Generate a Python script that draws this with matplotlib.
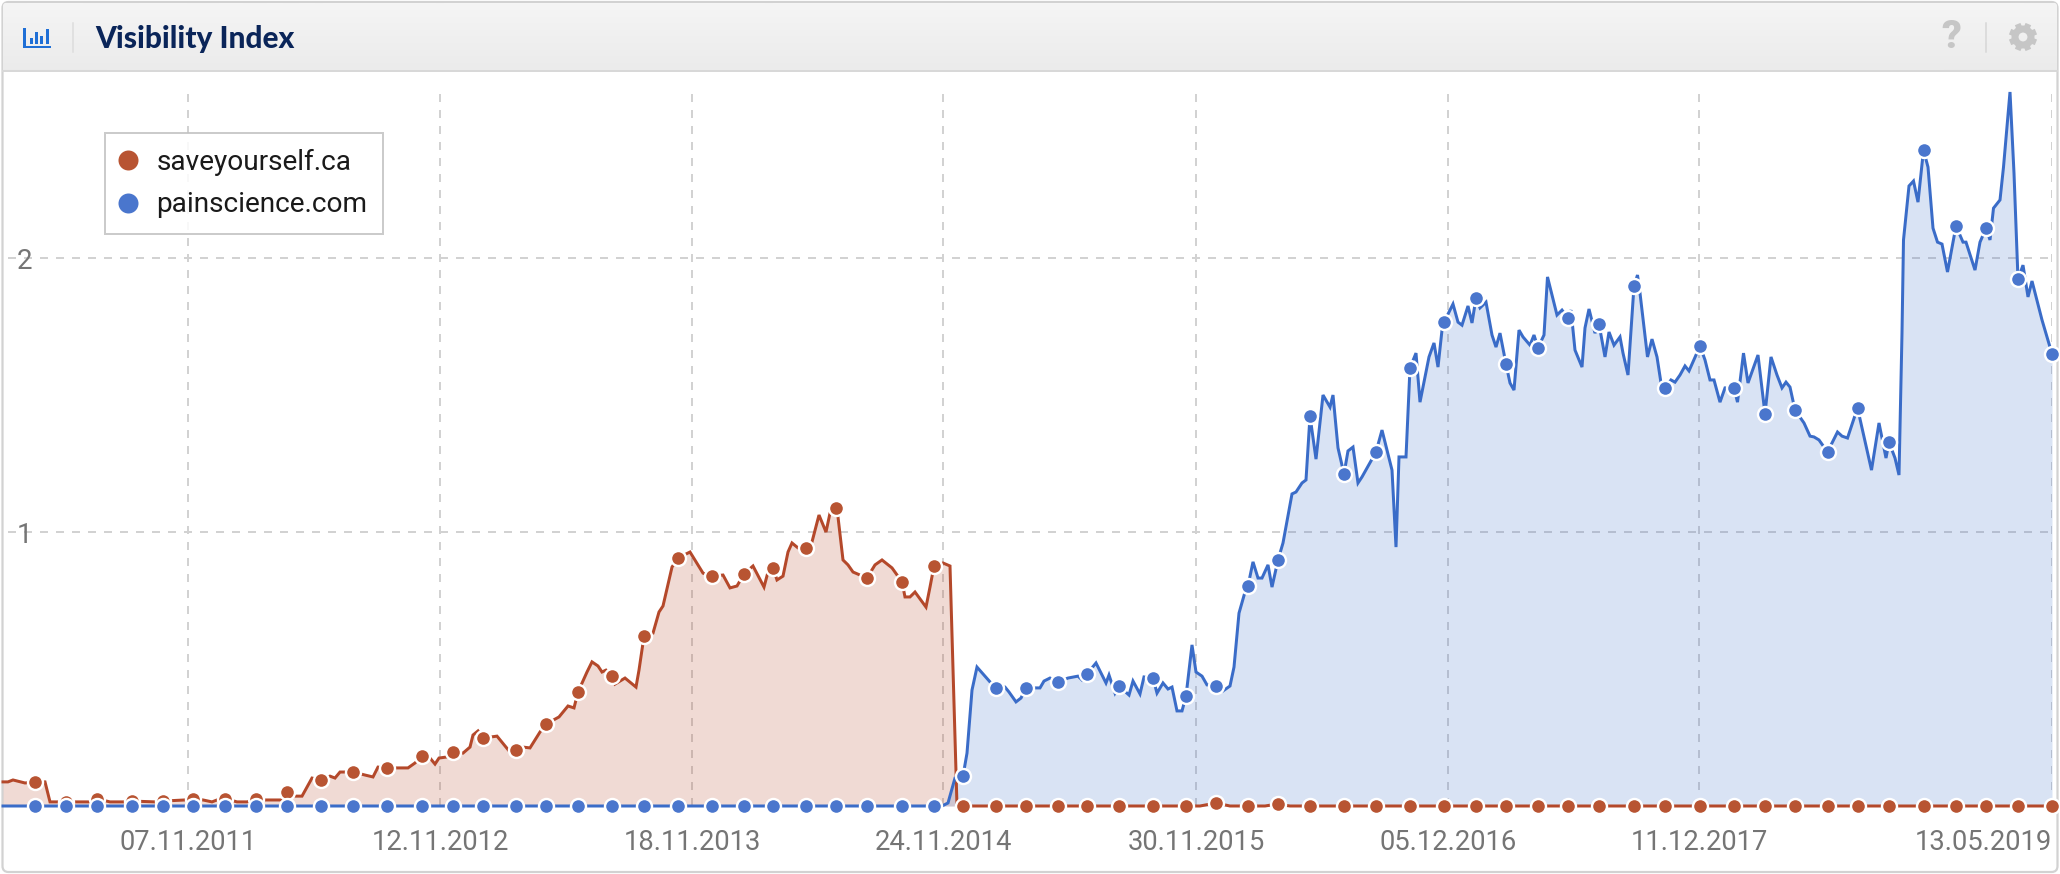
import numpy as np
import matplotlib
matplotlib.use('Agg')
import matplotlib.pyplot as plt
from matplotlib.colors import LinearSegmentedColormap
from matplotlib.lines import Line2D
from matplotlib.patches import FancyBboxPatch, Rectangle, Circle

# (position, value) pairs, position is in steps of 5 image pixels
red_points = [
    (.6, .088), (1.6, .088), (2.6, .095), (5, .084), (7, .088), (9, .088), (10, .015), (18, .015), (19.4, .026),
    (22, .015), (24.6, .015), (26.4, .018), (31, .015), (32.6, .018), (37, .022), (38.6, .026), (40.6, .022),
    (42.4, .015), (43.4, .022), (45.2, .026), (47.4, .015), (49.4, .015), (51.2, .026), (52.6, .022), (56.6, .022),
    (57.4, .051), (59, .036), (60.4, .036), (62.4, .102), (64.2, .095), (66, .109), (67, .102), (68, .124),
    (70.6, .124), (73, .113), (74.6, .106), (75.6, .142), (77.4, .139), (81.6, .139), (83, .157), (84.4, .182),
    (86, .175), (87, .153), (87.8, .175), (89.4, .179), (90.6, .197), (92.6, .193), (94, .215), (94.6, .259),
    (95.6, .274), (96.6, .248), (99.4, .255), (102, .197), (103.2, .204), (104.6, .215), (106, .212), (108, .270),
    (109.2, .299), (111.8, .325), (113.6, .365), (114.8, .358), (115.6, .416), (117.4, .489), (118.4, .526),
    (119.6, .511), (120.4, .489), (121.2, .496), (122.4, .474), (123, .445), (125, .467), (127.2, .434),
    (127.8, .496), (128.8, .620), (130.6, .631), (131.8, .708), (132.6, .730), (134.4, .872), (135.6, .905),
    (138, .927), (140.6, .850), (142.4, .839), (144.6, .843), (146, .796), (147.4, .803), (148.8, .847),
    (150.6, .876), (152.8, .799), (153.6, .854), (154.6, .869), (155.4, .825), (156.6, .839), (157.6, .927),
    (158.4, .960), (159.6, .942), (161.2, .942), (162.4, .964), (163.8, 1.062), (165.2, 1.0), (166, 1.069),
    (167.2, 1.088), (167.6, 1.055), (168.6, .898), (169.6, .880), (170.6, .854), (173.4, .832), (175, .880),
    (176.4, .898), (178.4, .869), (180.4, .818), (181, .763), (182, .763), (183, .781), (185.2, .726), (186, .799),
    (186.8, .876), (188.6, .887), (190, .876), (191.4, 0), (240, 0), (243.2, .011), (246, 0), (253, 0),
    (255.4, .007), (258, 0), (410.4, 0),
]
blue_points = [
    (.6, 0), (188.4, 0), (189.6, .011), (191, .102), (192.6, .109), (193.4, .193), (194.4, .423), (195.4, .507),
    (198, .453), (199.2, .431), (201, .434), (201.8, .416), (203.2, .380), (204.2, .394), (205.2, .431), (208, .431),
    (208.8, .456), (210, .467), (211.6, .453), (213.6, .467), (215.6, .474), (216.4, .460), (217.4, .482),
    (219.2, .522), (221.2, .449), (221.8, .478), (223, .412), (223.8, .438), (225.8, .405), (226.6, .456),
    (228, .409), (228.8, .471), (230.6, .467), (231.4, .412), (232.6, .449), (233.6, .427), (234.4, .434),
    (235.4, .347), (236.4, .347), (237.2, .401), (238.4, .588), (239.2, .489), (240.4, .474), (241.4, .442),
    (243.2, .438), (244.6, .420), (246, .438), (246.8, .507), (247.8, .704), (249, .781), (249.6, .803),
    (250.6, .891), (251.6, .832), (252.4, .832), (253.6, .880), (254.4, .799), (255.6, .898), (256.6, .960),
    (258.4, 1.139), (259.2, 1.146), (260.4, 1.179), (261.2, 1.190), (262, 1.423), (263.2, 1.266), (264.6, 1.5),
    (266, 1.456), (266.6, 1.5), (267.6, 1.307), (268.8, 1.212), (269.6, 1.296), (270.6, 1.310), (271.6, 1.179),
    (272.4, 1.201), (275.2, 1.292), (276.4, 1.372), (278.4, 1.226), (279.2, .945), (279.8, 1.274), (281.2, 1.274),
    (282, 1.599), (283.2, 1.653), (284, 1.474), (285.8, 1.639), (286.8, 1.690), (287.6, 1.602), (288.4, 1.737),
    (288.8, 1.766), (290.6, 1.832), (291.6, 1.766), (292.4, 1.755), (293.6, 1.825), (294.4, 1.763), (295.2, 1.854),
    (296, 1.818), (297.2, 1.839), (298.4, 1.719), (299.2, 1.675), (300, 1.726), (301.2, 1.613), (302, 1.544),
    (302.8, 1.518), (303.8, 1.737), (304.6, 1.712), (306, 1.682), (306.8, 1.719), (307.6, 1.672), (308.8, 1.719),
    (309.5, 1.931), (311.4, 1.792), (312.4, 1.810), (313.6, 1.781), (314.2, 1.810), (315, 1.664), (316.4, 1.602),
    (317, 1.745), (317.8, 1.814), (319, 1.726), (319.8, 1.759), (321, 1.639), (321.8, 1.730), (322.8, 1.682),
    (324, 1.712), (324.6, 1.653), (325.6, 1.573), (326.8, 1.898), (327.5, 1.938), (328, 1.872), (329.5, 1.639),
    (330.4, 1.704), (331.4, 1.639), (332.2, 1.544), (333, 1.526), (334.2, 1.555), (335, 1.547), (336, 1.573),
    (337, 1.606), (337.8, 1.588), (340, 1.679), (341, 1.628), (342, 1.555), (342.8, 1.555), (344, 1.474),
    (345, 1.526), (346.8, 1.526), (347.5, 1.474), (348.7, 1.653), (349.6, 1.544), (351.6, 1.646), (353, 1.431),
    (354.2, 1.639), (355.4, 1.573), (356.4, 1.526), (357.2, 1.547), (358, 1.529), (359, 1.445), (360.8, 1.398),
    (362, 1.350), (362.8, 1.347), (363.8, 1.336), (365.5, 1.292), (367.5, 1.365), (368.4, 1.350), (369.5, 1.343),
    (371.5, 1.453), (372.5, 1.372), (374.3, 1.226), (375.8, 1.398), (377.2, 1.270), (377.8, 1.328), (379, 1.270),
    (379.8, 1.208), (380.4, 1.726), (380.7, 2.066), (381.8, 2.263), (382.7, 2.281), (383.6, 2.204), (384.7, 2.394),
    (385.6, 2.332), (386.6, 2.109), (387.5, 2.058), (388.4, 2.051), (389.5, 1.949), (391.2, 2.117), (392.6, 2.058),
    (393.2, 2.058), (395, 1.956), (396, 2.058), (397.2, 2.109), (398, 2.066), (398.7, 2.182), (400, 2.212),
    (400.7, 2.332), (402, 2.606), (402.8, 2.310), (403.6, 1.923), (404.6, 1.974), (405.6, 1.858), (406.4, 1.916),
    (408.4, 1.774), (410.4, 1.650),
]
red_x, red_values = zip(*red_points)
blue_x, blue_values = zip(*blue_points)

# both series carry a dot on the same positions
dot_x = [7, 13.2, 19.4, 26.4, 32.6, 38.6, 45, 51.2, 57.4, 64.2, 70.6, 77.4, 84.4, 90.6, 96.6, 103.2, 109.2, 115.6,
         122.4, 128.8, 135.6, 142.4, 148.8, 154.6, 161.2, 167.2, 173.4, 180.4, 186.8, 192.6, 199.2, 205.2, 211.6,
         217.4, 223.8, 230.6, 237.2, 243.2, 249.6, 255.6, 262, 268.8, 275.2, 282, 288.8, 295.2, 301.2, 307.6, 313.6,
         319.8, 326.8, 333, 340, 346.8, 353, 359, 365.5, 371.5, 377.8, 384.7, 391.2, 397.2, 403.6, 410.4]

tick_x = [37.6, 88, 138.4, 188.6, 239.2, 289.6, 339.8, 410.4]
tick_labels = ['07.11.2011', '12.11.2012', '18.11.2013', '24.11.2014', '30.11.2015', '05.12.2016', '11.12.2017',
               '13.05.2019']
y_ticks = [1, 2]

RED_LINE = '#b4482a'
RED_DOT = '#b85432'
BLUE_LINE = '#3a6cc8'
BLUE_DOT = '#4a76cd'
GRID = '#d2d2d2'
px = 0.72  # one image pixel in points

plt.rcParams['font.family'] = ['Roboto', 'DejaVu Sans']
fig = plt.figure(figsize=(20.6, 8.74), dpi=100, facecolor='white')

# card frame and header, drawn in image pixels
chrome = fig.add_axes([0, 0, 1, 1], zorder=0)
card = FancyBboxPatch((2.5, 2), 2055, 870, boxstyle='round,pad=0,rounding_size=6', fc='white', ec='#d2d2d2', lw=2.2 * px)
chrome.add_patch(card)
gradient = np.linspace(0, 1, 64).reshape(-1, 1)
header_cmap = LinearSegmentedColormap.from_list('header', ['#f5f5f5', '#ebebeb'])
header = chrome.imshow(gradient, extent=(3, 2057, 70, 3), aspect='auto', cmap=header_cmap, zorder=1)
header.set_clip_path(card)
chrome.set_xlim(0, 2060)
chrome.set_ylim(874, 0)
chrome.axis('off')
chrome.plot([3, 2057], [70.5, 70.5], color='#d8d8d8', lw=2 * px, zorder=2)
chrome.plot([73, 73], [23, 52], color='#dcdcdc', lw=1.5 * px, zorder=2)
chrome.plot([1986, 1986], [23, 52], color='#d6d6d6', lw=1.5 * px, zorder=2)

# chart icon
icon_blue = '#1f6fd6'
chrome.add_patch(Rectangle((23, 28), 2.6, 20, fc=icon_blue, ec='none', zorder=3))
chrome.add_patch(Rectangle((23, 45.5), 28, 2.8, fc=icon_blue, ec='none', zorder=3))
for left, top in [(30, 38), (35, 32), (40, 36), (46, 29)]:
    chrome.add_patch(Rectangle((left, top), 3.2, 44 - top, fc=icon_blue, ec='none', zorder=3))

chrome.text(95, 39, 'Visibility Index', family='Lato', weight='black', fontsize=21.4, color='#0a2559', va='center', ha='left', zorder=3)
chrome.text(1951, 37, '?', family='Roboto', weight='black', fontsize=28, color='#c6c6c6', va='center', ha='center', zorder=3)

# settings gear
for angle in np.deg2rad(np.arange(0, 360, 45) + 22.5):
    chrome.plot([2023 + 8 * np.cos(angle), 2023 + 14 * np.cos(angle)], [37 + 8 * np.sin(angle), 37 + 14 * np.sin(angle)],
                color='#c6c6c6', lw=6 * px, solid_capstyle='butt', zorder=3)
chrome.add_patch(Circle((2023, 37), 8, fc='none', ec='#c6c6c6', lw=7 * px, zorder=3))

# plot area from pixel 8 to 2052 across, 92 to 806 down
ax = fig.add_axes([8 / 2060, (874 - 806) / 874, 2044 / 2060, (806 - 92) / 874], zorder=1)
ax.patch.set_alpha(0)
for spine in ax.spines.values():
    spine.set_visible(False)
ax.set_xlim(1.6, 410.4)
ax.set_ylim(0, 2.606)

ax.set_xticks(tick_x)
ax.set_xticklabels(tick_labels)
ax.set_yticks(y_ticks)
ax.tick_params(axis='x', length=0, pad=16.5, labelsize=19.7, labelcolor='#757575')
ax.tick_params(axis='y', length=0, pad=-17.5, labelsize=20, labelcolor='#757575')
ax.get_xticklabels()[-1].set_ha('right')
ax.set_axisbelow(True)
ax.grid(True, color=GRID, lw=2 * px, linestyle=(0, (4, 4)))

ax.fill_between(red_x, red_values, 0, color=RED_LINE, alpha=0.2, lw=0, zorder=1, clip_on=False)
ax.fill_between(blue_x, blue_values, 0, color=BLUE_LINE, alpha=0.19, lw=0, zorder=1.1, clip_on=False)
ax.plot(red_x, red_values, color=RED_LINE, lw=3 * px, zorder=2, clip_on=False, solid_joinstyle='miter')
ax.plot(blue_x, blue_values, color=BLUE_LINE, lw=3 * px, zorder=3, clip_on=False, solid_joinstyle='miter')
ax.plot(dot_x, np.interp(dot_x, red_x, red_values), ls='none', marker='o', ms=15 * px, mfc=RED_DOT, mec='white',
        mew=2.4 * px, zorder=4, clip_on=False)
ax.plot(dot_x, np.interp(dot_x, blue_x, blue_values), ls='none', marker='o', ms=15 * px, mfc=BLUE_DOT, mec='white',
        mew=2.4 * px, zorder=5, clip_on=False)

handles = [Line2D([], [], ls='none', marker='o', ms=20 * px, mfc=RED_DOT, mec='none', label='saveyourself.ca'),
           Line2D([], [], ls='none', marker='o', ms=20 * px, mfc=BLUE_DOT, mec='none', label='painscience.com')]
legend = ax.legend(handles=handles, loc='upper left', bbox_to_anchor=(105 / 2060, (874 - 133) / 874),
                   bbox_transform=fig.transFigure, fontsize=20.2, frameon=True, fancybox=False, framealpha=0.85,
                   edgecolor='#c2c2c2', labelcolor='#1a1a1a', handletextpad=0.72, borderpad=0.56, labelspacing=0.56,
                   borderaxespad=0, handlelength=0.55)
legend.get_frame().set_linewidth(2 * px)
legend.set_zorder(6)

fig.savefig('out.png', dpi=100)
